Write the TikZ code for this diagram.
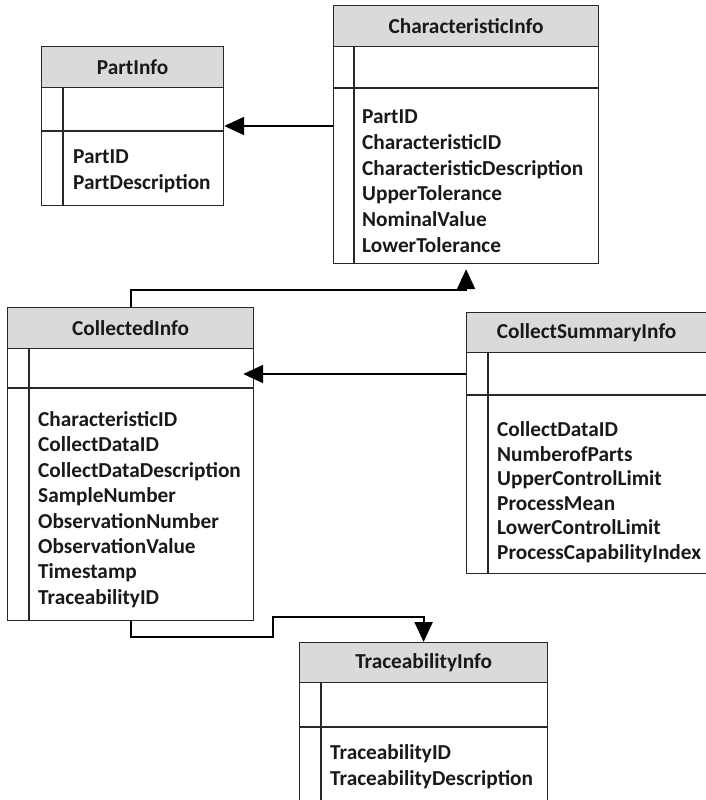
\documentclass[tikz,border=0pt]{standalone}
\usepackage{fontspec}
\setmainfont{Carlito}
\usetikzlibrary{positioning}
\usetikzlibrary{calc}
\usetikzlibrary{arrows.meta}

\definecolor{headgray}{RGB}{218,218,218}
\definecolor{framegray}{RGB}{40,40,40}
\definecolor{inkgray}{RGB}{25,25,25}

\tikzset{
  tablebox/.style={draw=framegray, line width=1.2pt, inner sep=0pt, anchor=north west},
  headbox/.style={tablebox, fill=headgray, text=inkgray, font=\bfseries\fontsize{21.3}{24}\selectfont},
  rule/.style={draw=framegray, line width=1.2pt},
  fieldtext/.style={font=\bfseries\fontsize{21.3}{24}\selectfont, text=inkgray, inner sep=0pt, anchor=west, text height=15pt, text depth=4pt},
  link/.style={draw=black, line width=2pt, -{Triangle[length=20pt,width=18pt]}},
}

\begin{document}
\begin{tikzpicture}[x=1pt, y=-1pt]

\useasboundingbox (0,0) rectangle (706,800);

% PartInfo
\node[tablebox, minimum width=182pt, minimum height=159pt] (part) at (41,46) {};
\node[headbox, minimum width=182pt, minimum height=41pt] (part-head) at (part.north west) {PartInfo};
\draw[rule] ($(part.north west)+(0,85)$) -- ($(part.north east)+(0,85)$);
\draw[rule] ($(part-head.south west)+(22,0)$) -- ($(part.south west)+(22,0)$);
\foreach \f [count=\i from 0] in {PartID,PartDescription}
  \node[fieldtext] at ($(part.north west)+(32,112+25.8*\i)$) {\f};

% CharacteristicInfo
\node[tablebox, minimum width=265pt, minimum height=258pt] (char) at (333,5) {};
\node[headbox, minimum width=265pt, minimum height=41pt] (char-head) at (char.north west) {CharacteristicInfo};
\draw[rule] ($(char.north west)+(0,83)$) -- ($(char.north east)+(0,83)$);
\draw[rule] ($(char-head.south west)+(21,0)$) -- ($(char.south west)+(21,0)$);
\foreach \f [count=\i from 0] in {PartID,CharacteristicID,CharacteristicDescription,UpperTolerance,NominalValue,LowerTolerance}
  \node[fieldtext] at ($(char.north west)+(29,113+25.8*\i)$) {\f};

% CollectedInfo
\node[tablebox, minimum width=246pt, minimum height=313pt] (coll) at (7,307) {};
\node[headbox, minimum width=246pt, minimum height=41pt] (coll-head) at (coll.north west) {CollectedInfo};
\draw[rule] ($(coll.north west)+(0,81)$) -- ($(coll.north east)+(0,81)$);
\draw[rule] ($(coll-head.south west)+(22,0)$) -- ($(coll.south west)+(22,0)$);
\foreach \f [count=\i from 0] in {CharacteristicID,CollectDataID,CollectDataDescription,SampleNumber,ObservationNumber,ObservationValue,Timestamp,TraceabilityID}
  \node[fieldtext] at ($(coll.north west)+(31,114+25.4*\i)$) {\f};

% CollectSummaryInfo
\node[tablebox, minimum width=240pt, minimum height=261pt] (summ) at (466,312) {};
\node[headbox, minimum width=240pt, minimum height=40pt] (summ-head) at (summ.north west) {CollectSummaryInfo};
\draw[rule] ($(summ.north west)+(0,83)$) -- ($(summ.north east)+(0,83)$);
\draw[rule] ($(summ-head.south west)+(22,0)$) -- ($(summ.south west)+(22,0)$);
\foreach \f [count=\i from 0] in {CollectDataID,NumberofParts,UpperControlLimit,ProcessMean,LowerControlLimit,ProcessCapabilityIndex}
  \node[fieldtext] at ($(summ.north west)+(31,119+24.5*\i)$) {\f};

% TraceabilityInfo
\node[tablebox, minimum width=248pt, minimum height=180pt] (trace) at (299,642) {};
\node[headbox, minimum width=248pt, minimum height=40pt] (trace-head) at (trace.north west) {TraceabilityInfo};
\draw[rule] ($(trace.north west)+(0,85)$) -- ($(trace.north east)+(0,85)$);
\draw[rule] ($(trace-head.south west)+(22,0)$) -- ($(trace.south west)+(22,0)$);
\foreach \f [count=\i from 0] in {TraceabilityID,TraceabilityDescription}
  \node[fieldtext] at ($(trace.north west)+(31,112+26*\i)$) {\f};

% connectors
\coordinate (pc) at ($(char.north west)+(0,121)$);
\draw[link] (pc) -- (pc -| part.east);

\draw[link] (coll.north) -- ++(0,-17) -| ([yshift=-5pt]char.south);

\coordinate (sc) at ($(summ.north west)+(0,62)$);
\draw[link, shorten >=-11pt] (sc) -- (sc -| coll.east);

\draw[link] (coll.south) -- ++(0,16) -- ++(142,0) -- ++(0,-20) -| (trace.north);

\end{tikzpicture}
\end{document}
